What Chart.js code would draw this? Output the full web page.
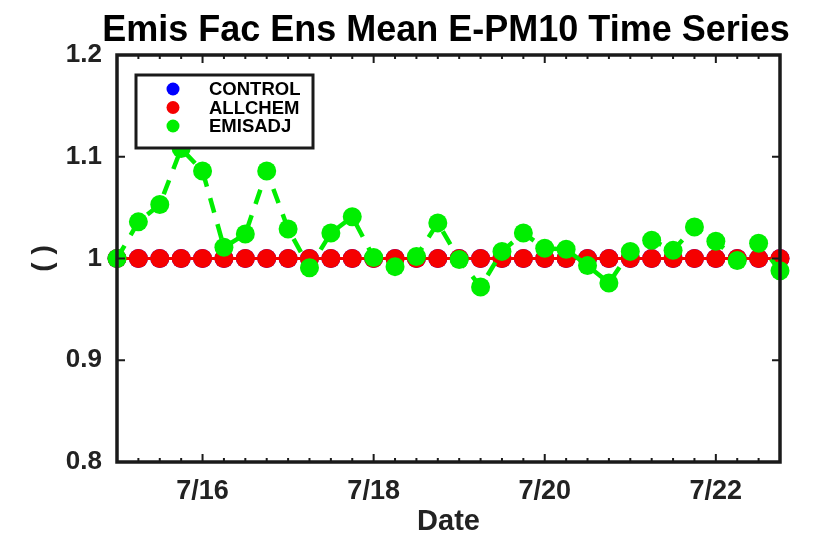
<!DOCTYPE html>
<html>
<head>
<meta charset="utf-8">
<script src="https://cdn.jsdelivr.net/npm/chart.js@4"></script>
<style>
  html, body { margin: 0; padding: 0; background: #fff; }
</style>
</head>
<body>
<canvas id="chart" width="821" height="539"></canvas>
<script>
// 6-hourly output times
const times = [
  '7/15 00', '7/15 06', '7/15 12', '7/15 18',
  '7/16 00', '7/16 06', '7/16 12', '7/16 18',
  '7/17 00', '7/17 06', '7/17 12', '7/17 18',
  '7/18 00', '7/18 06', '7/18 12', '7/18 18',
  '7/19 00', '7/19 06', '7/19 12', '7/19 18',
  '7/20 00', '7/20 06', '7/20 12', '7/20 18',
  '7/21 00', '7/21 06', '7/21 12', '7/21 18',
  '7/22 00', '7/22 06', '7/22 12', '7/22 18'
];
const tickLabels = ['7/16', '7/18', '7/20', '7/22'];

const control = [1, 1, 1, 1, 1, 1, 1, 1, 1, 1, 1, 1, 1, 1, 1, 1,
                 1, 1, 1, 1, 1, 1, 1, 1, 1, 1, 1, 1, 1, 1, 1, 1];
const allchem = [1, 1, 1, 1, 1, 1, 1, 1, 1, 1, 1, 1, 1, 1, 1, 1,
                 1, 1, 1, 1, 1, 1, 1, 1, 1, 1, 1, 1, 1, 1, 1, 1];
const emisadj = [1.000, 1.036, 1.053, 1.108, 1.086, 1.011, 1.024, 1.086,
                 1.029, 0.991, 1.025, 1.041, 1.001, 0.992, 1.002, 1.035,
                 0.999, 0.972, 1.007, 1.025, 1.010, 1.009, 0.993, 0.976,
                 1.007, 1.018, 1.008, 1.031, 1.017, 0.998, 1.015, 0.988];

const titleText = 'Emis Fac Ens Mean E-PM10 Time Series';
const FONT = "'Liberation Sans', Arial, sans-serif";

// title drawn by hand so it is not squeezed to the plot width
const titlePlugin = {
  id: 'plotTitle',
  afterDraw(chart) {
    const { ctx } = chart;
    ctx.save();
    ctx.fillStyle = '#000';
    ctx.font = 'bold 36px ' + FONT;
    ctx.textAlign = 'center';
    ctx.textBaseline = 'alphabetic';
    ctx.fillText(titleText, 446, 41);
    ctx.restore();
  }
};

// box around the axes with inward ticks, matlab style
const framePlugin = {
  id: 'frame',
  afterDatasetsDraw(chart) {
    const { ctx, chartArea: a, scales: { x, y } } = chart;
    ctx.save();
    ctx.strokeStyle = '#1a1a1a';
    ctx.lineWidth = 2;
    ctx.beginPath();
    x.ticks.forEach((t, i) => {
      const px = x.getPixelForTick(i);
      const len = t.label ? 8 : 4;
      ctx.moveTo(px, a.bottom); ctx.lineTo(px, a.bottom - len);
      ctx.moveTo(px, a.top); ctx.lineTo(px, a.top + len);
    });
    y.ticks.forEach((t, i) => {
      const py = y.getPixelForTick(i);
      ctx.moveTo(a.left, py); ctx.lineTo(a.left + 8, py);
      ctx.moveTo(a.right, py); ctx.lineTo(a.right - 8, py);
    });
    ctx.stroke();
    ctx.lineWidth = 3.5;
    ctx.strokeRect(a.left, a.top, a.right - a.left, a.bottom - a.top);
    ctx.restore();
  }
};

// legend box in the upper left corner of the axes
const legendPlugin = {
  id: 'boxLegend',
  afterDraw(chart) {
    const { ctx, chartArea: a } = chart;
    const x0 = a.left + 19, y0 = a.top + 20, w = 177, h = 73;
    ctx.save();
    ctx.fillStyle = '#fff';
    ctx.fillRect(x0, y0, w, h);
    ctx.strokeStyle = '#1a1a1a';
    ctx.lineWidth = 3;
    ctx.strokeRect(x0, y0, w, h);
    chart.data.datasets.forEach((ds, i) => {
      const cy = y0 + 14 + i * 18.5;
      ctx.fillStyle = ds.pointBackgroundColor;
      ctx.beginPath();
      ctx.arc(x0 + 37, cy, 6.5, 0, Math.PI * 2);
      ctx.fill();
      ctx.fillStyle = '#000';
      ctx.font = 'bold 18.5px ' + FONT;
      ctx.textBaseline = 'middle';
      ctx.fillText(ds.label, x0 + 73, cy + 1);
    });
    ctx.restore();
  }
};

new Chart(document.getElementById('chart'), {
  type: 'line',
  data: {
    labels: times,
    datasets: [
      {
        label: 'CONTROL',
        data: control,
        borderColor: '#0000ff',
        backgroundColor: '#0000ff',
        pointBackgroundColor: '#0000ff',
        borderWidth: 3,
        pointRadius: 9.5,
        pointBorderWidth: 0,
        order: 2,
        clip: false
      },
      {
        label: 'ALLCHEM',
        data: allchem,
        borderColor: '#f50000',
        backgroundColor: '#f50000',
        pointBackgroundColor: '#f50000',
        borderWidth: 3,
        pointRadius: 9.5,
        pointBorderWidth: 0,
        order: 1,
        clip: false
      },
      {
        label: 'EMISADJ',
        data: emisadj,
        borderColor: '#00ee00',
        backgroundColor: '#00ee00',
        pointBackgroundColor: '#00ee00',
        borderWidth: 4.5,
        borderDash: [15, 12],
        pointRadius: 9.5,
        pointBorderWidth: 0,
        order: 0,
        clip: false
      }
    ]
  },
  options: {
    responsive: false,
    animation: false,
    layout: { padding: { left: 0, right: 41, top: 55, bottom: 0 } },
    plugins: {
      legend: { display: false },
      tooltip: { enabled: false },
      title: { display: false }
    },
    scales: {
      x: {
        type: 'category',
        offset: false,
        grid: { display: false, drawTicks: false },
        border: { display: false },
        ticks: {
          autoSkip: false,
          maxRotation: 0,
          padding: 13,
          color: '#222',
          font: { family: FONT, size: 27, weight: 'bold' },
          callback: function (v, i) {
            const [day, hour] = times[i].split(' ');
            return (hour === '00' && tickLabels.includes(day)) ? day : '';
          }
        },
        title: {
          display: true,
          text: 'Date',
          color: '#222',
          font: { family: FONT, size: 29, weight: 'bold' },
          padding: { top: 0, bottom: 0 }
        },
        afterFit: s => { s.height = 77; }
      },
      y: {
        min: 0.8,
        max: 1.2,
        grid: { display: false, drawTicks: false },
        border: { display: false },
        ticks: {
          stepSize: 0.1,
          padding: 15,
          color: '#222',
          font: { family: FONT, size: 26, weight: 'bold' },
          callback: v => String(Math.round(v * 10) / 10)
        },
        title: {
          display: true,
          text: '( )',
          color: '#222',
          font: { family: FONT, size: 28, weight: 'bold' },
          padding: { top: 26, bottom: 0 }
        },
        afterFit: s => { s.width = 117; }
      }
    }
  },
  plugins: [titlePlugin, framePlugin, legendPlugin]
});
</script>
</body>
</html>
